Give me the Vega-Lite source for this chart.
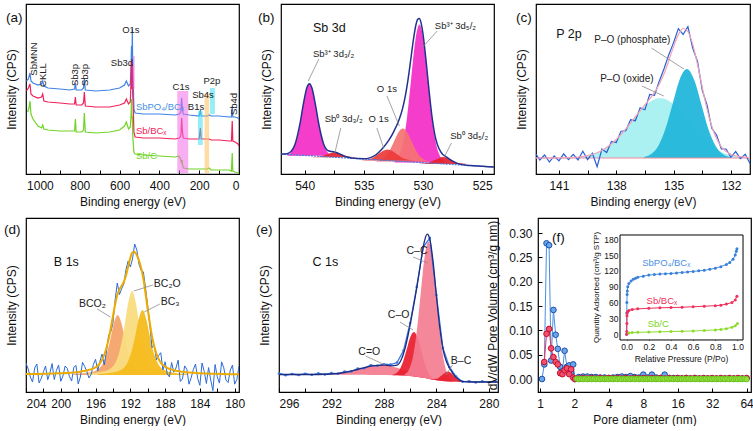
{
"$schema": "https://vega.github.io/schema/vega-lite/v6.json",
"padding": {"left": 3, "top": 3, "right": 0, "bottom": 0},
"background": "white",
"config": {
  "font": "Liberation Sans",
  "view": {"stroke": "#000", "strokeWidth": 1.2},
  "axis": {"grid": false, "domain": false, "labelFont": "Liberation Sans", "titleFont": "Liberation Sans", "labelFontSize": 12, "titleFontSize": 12, "titleFontWeight": "normal", "labelColor": "#111", "titleColor": "#111", "tickColor": "#000", "tickSize": -4, "labelPadding": 10, "titlePadding": 5},
  "text": {"font": "Liberation Sans", "color": "#222"}
},
"datasets": {
  "a_lines": [
    {"s":"B","x":1068,"y":93},{"s":"B","x":1058,"y":95},{"s":"B","x":1050,"y":101},{"s":"B","x":1045,"y":93},{"s":"B","x":1035,"y":91},{"s":"B","x":1010,"y":89},{"s":"B","x":992,"y":90},{"s":"B","x":986,"y":93},{"s":"B","x":980,"y":88},{"s":"B","x":960,"y":86},{"s":"B","x":900,"y":85},{"s":"B","x":850,"y":84},{"s":"B","x":826,"y":85},{"s":"B","x":822,"y":91},{"s":"B","x":818,"y":84},{"s":"B","x":790,"y":84},{"s":"B","x":781,"y":86},{"s":"B","x":777,"y":95},{"s":"B","x":772,"y":84},{"s":"B","x":720,"y":83},{"s":"B","x":650,"y":84},{"s":"B","x":600,"y":86},{"s":"B","x":575,"y":89},{"s":"B","x":566,"y":93},{"s":"B","x":555,"y":88},{"s":"B","x":546,"y":90},{"s":"B","x":542,"y":110},{"s":"B","x":540,"y":128},{"s":"B","x":538,"y":100},{"s":"B","x":536,"y":145},{"s":"B","x":534,"y":110},{"s":"B","x":531,"y":90},{"s":"B","x":528,"y":65},{"s":"B","x":522,"y":61},{"s":"B","x":480,"y":60},{"s":"B","x":400,"y":60},{"s":"B","x":320,"y":59},{"s":"B","x":300,"y":60},{"s":"B","x":292,"y":62},{"s":"B","x":288,"y":76},{"s":"B","x":285,"y":66},{"s":"B","x":280,"y":60},{"s":"B","x":250,"y":59},{"s":"B","x":200,"y":58},{"s":"B","x":194,"y":64},{"s":"B","x":190,"y":58},{"s":"B","x":160,"y":58},{"s":"B","x":150,"y":59},{"s":"B","x":140,"y":58},{"s":"B","x":100,"y":58},{"s":"B","x":50,"y":57},{"s":"B","x":38,"y":57},{"s":"B","x":34,"y":68},{"s":"B","x":31,"y":57},{"s":"B","x":20,"y":57},{"s":"B","x":5,"y":56},{"s":"B","x":0,"y":55},
    {"s":"R","x":1068,"y":83},{"s":"R","x":1058,"y":86},{"s":"R","x":1050,"y":90},{"s":"R","x":1045,"y":80},{"s":"R","x":1035,"y":78},{"s":"R","x":1010,"y":76},{"s":"R","x":992,"y":77},{"s":"R","x":986,"y":80},{"s":"R","x":980,"y":73},{"s":"R","x":960,"y":72},{"s":"R","x":900,"y":71},{"s":"R","x":850,"y":70},{"s":"R","x":826,"y":70},{"s":"R","x":822,"y":77},{"s":"R","x":818,"y":69},{"s":"R","x":790,"y":69},{"s":"R","x":781,"y":71},{"s":"R","x":777,"y":82},{"s":"R","x":772,"y":68},{"s":"R","x":720,"y":67},{"s":"R","x":650,"y":67},{"s":"R","x":600,"y":69},{"s":"R","x":575,"y":71},{"s":"R","x":566,"y":75},{"s":"R","x":555,"y":70},{"s":"R","x":546,"y":72},{"s":"R","x":542,"y":95},{"s":"R","x":540,"y":113},{"s":"R","x":538,"y":85},{"s":"R","x":536,"y":110},{"s":"R","x":534,"y":80},{"s":"R","x":531,"y":65},{"s":"R","x":528,"y":42},{"s":"R","x":522,"y":37},{"s":"R","x":480,"y":36},{"s":"R","x":400,"y":36},{"s":"R","x":320,"y":35},{"s":"R","x":300,"y":36},{"s":"R","x":292,"y":38},{"s":"R","x":288,"y":56},{"s":"R","x":285,"y":44},{"s":"R","x":280,"y":36},{"s":"R","x":250,"y":35},{"s":"R","x":200,"y":35},{"s":"R","x":194,"y":46},{"s":"R","x":190,"y":35},{"s":"R","x":160,"y":35},{"s":"R","x":150,"y":35},{"s":"R","x":140,"y":34},{"s":"R","x":100,"y":34},{"s":"R","x":50,"y":33},{"s":"R","x":38,"y":33},{"s":"R","x":34,"y":53},{"s":"R","x":31,"y":33},{"s":"R","x":20,"y":32},{"s":"R","x":5,"y":30},{"s":"R","x":0,"y":28},
    {"s":"G","x":1062,"y":62},{"s":"G","x":1055,"y":66},{"s":"G","x":1050,"y":73},{"s":"G","x":1045,"y":60},{"s":"G","x":1035,"y":55},{"s":"G","x":1010,"y":48},{"s":"G","x":992,"y":46},{"s":"G","x":986,"y":49},{"s":"G","x":980,"y":45},{"s":"G","x":960,"y":44},{"s":"G","x":900,"y":43},{"s":"G","x":850,"y":43},{"s":"G","x":826,"y":43},{"s":"G","x":822,"y":55},{"s":"G","x":818,"y":42},{"s":"G","x":790,"y":42},{"s":"G","x":781,"y":44},{"s":"G","x":777,"y":61},{"s":"G","x":772,"y":42},{"s":"G","x":720,"y":41},{"s":"G","x":650,"y":42},{"s":"G","x":600,"y":44},{"s":"G","x":575,"y":48},{"s":"G","x":566,"y":52},{"s":"G","x":555,"y":45},{"s":"G","x":546,"y":47},{"s":"G","x":542,"y":60},{"s":"G","x":540,"y":75},{"s":"G","x":538,"y":55},{"s":"G","x":536,"y":58},{"s":"G","x":534,"y":40},{"s":"G","x":531,"y":30},{"s":"G","x":528,"y":22},{"s":"G","x":522,"y":20},{"s":"G","x":480,"y":19},{"s":"G","x":400,"y":18},{"s":"G","x":320,"y":17},{"s":"G","x":305,"y":18},{"s":"G","x":295,"y":16},{"s":"G","x":290,"y":12},{"s":"G","x":286,"y":14},{"s":"G","x":283,"y":8},{"s":"G","x":278,"y":6},{"s":"G","x":250,"y":5},{"s":"G","x":200,"y":5},{"s":"G","x":160,"y":5},{"s":"G","x":150,"y":6},{"s":"G","x":140,"y":4},{"s":"G","x":100,"y":4},{"s":"G","x":50,"y":4},{"s":"G","x":38,"y":3},{"s":"G","x":34,"y":21},{"s":"G","x":31,"y":3},{"s":"G","x":20,"y":2},{"s":"G","x":5,"y":1},{"s":"G","x":0,"y":0}
  ],
  "a_rects": [
    {"c":"P","x":255,"x2":310,"y":1,"y2":83},
    {"c":"P","x":524,"x2":534,"y":85,"y2":118},
    {"c":"C","x":182,"x2":206,"y":29,"y2":63},
    {"c":"O","x":150,"x2":173,"y":1,"y2":80},
    {"c":"C","x":121,"x2":146,"y":60,"y2":86}
  ],
  "a_vlab": [
    {"t":"SbMNN","x":1032,"y":115},{"t":"CKLL","x":986,"y":99},{"t":"Sb3p","x":824,"y":99},{"t":"Sb3p","x":774,"y":99},{"t":"Sb4d","x":24,"y":70}
  ],
  "a_hlab": [
    {"t":"O1s","x":543,"y":144},{"t":"Sb3d","x":588,"y":111},{"t":"C1s","x":291,"y":87},{"t":"Sb4s","x":181,"y":79},{"t":"B1s","x":216,"y":67},{"t":"P2p","x":136,"y":93}
  ],
  "b_comp": [
    {"c":"c1","x":528.2,"y":13.0,"y2":11.5},{"c":"c1","x":528.55,"y":17.6,"y2":11.5},{"c":"c1","x":528.9,"y":30.2,"y2":11.5},{"c":"c1","x":529.25,"y":56.3,"y2":11.5},{"c":"c1","x":529.6,"y":95.2,"y2":11.5},{"c":"c1","x":529.95,"y":133.3,"y2":11.5},{"c":"c1","x":530.3,"y":149.5,"y2":11.5},{"c":"c1","x":530.65,"y":133.3,"y2":11.5},{"c":"c1","x":531.0,"y":95.2,"y2":11.5},{"c":"c1","x":531.35,"y":56.3,"y2":11.5},{"c":"c1","x":531.7,"y":30.2,"y2":11.5},{"c":"c1","x":532.05,"y":17.6,"y2":11.5},{"c":"c1","x":532.4,"y":13.0,"y2":11.5},
    {"c":"c2","x":537.74,"y":19.0,"y2":18.2},{"c":"c2","x":538.05,"y":21.4,"y2":18.2},{"c":"c2","x":538.36,"y":27.9,"y2":18.2},{"c":"c2","x":538.67,"y":41.6,"y2":18.2},{"c":"c2","x":538.98,"y":61.9,"y2":18.2},{"c":"c2","x":539.29,"y":81.7,"y2":18.2},{"c":"c2","x":539.6,"y":90.2,"y2":18.2},{"c":"c2","x":539.91,"y":81.7,"y2":18.2},{"c":"c2","x":540.22,"y":61.9,"y2":18.2},{"c":"c2","x":540.53,"y":41.6,"y2":18.2},{"c":"c2","x":540.84,"y":27.9,"y2":18.2},{"c":"c2","x":541.15,"y":21.4,"y2":18.2},{"c":"c2","x":541.46,"y":19.0,"y2":18.2},
    {"c":"c3","x":529.45,"y":12.9,"y2":12.5},{"c":"c3","x":529.83,"y":13.9,"y2":12.5},{"c":"c3","x":530.2,"y":17.0,"y2":12.5},{"c":"c3","x":530.58,"y":23.2,"y2":12.5},{"c":"c3","x":530.95,"y":32.5,"y2":12.5},{"c":"c3","x":531.33,"y":41.6,"y2":12.5},{"c":"c3","x":531.7,"y":45.5,"y2":12.5},{"c":"c3","x":532.08,"y":41.6,"y2":12.5},{"c":"c3","x":532.45,"y":32.5,"y2":12.5},{"c":"c3","x":532.83,"y":23.2,"y2":12.5},{"c":"c3","x":533.2,"y":17.0,"y2":12.5},{"c":"c3","x":533.58,"y":13.9,"y2":12.5},{"c":"c3","x":533.95,"y":12.9,"y2":12.5},
    {"c":"c4","x":530.75,"y":13.6,"y2":13.5},{"c":"c4","x":531.125,"y":14.0,"y2":13.5},{"c":"c4","x":531.5,"y":15.0,"y2":13.5},{"c":"c4","x":531.875,"y":17.1,"y2":13.5},{"c":"c4","x":532.25,"y":20.2,"y2":13.5},{"c":"c4","x":532.625,"y":23.2,"y2":13.5},{"c":"c4","x":533.0,"y":24.5,"y2":13.5},{"c":"c4","x":533.375,"y":23.2,"y2":13.5},{"c":"c4","x":533.75,"y":20.2,"y2":13.5},{"c":"c4","x":534.125,"y":17.1,"y2":13.5},{"c":"c4","x":534.5,"y":15.0,"y2":13.5},{"c":"c4","x":534.875,"y":14.0,"y2":13.5},{"c":"c4","x":535.25,"y":13.6,"y2":13.5},
    {"c":"c5","x":535.7,"y":16.9,"y2":16.8},{"c":"c5","x":536.3,"y":17.5,"y2":16.8},{"c":"c5","x":536.9,"y":19.8,"y2":16.8},{"c":"c5","x":537.5,"y":21.8,"y2":16.8},{"c":"c5","x":538.1,"y":19.8,"y2":16.8},{"c":"c5","x":538.7,"y":17.5,"y2":16.8},{"c":"c5","x":539.3,"y":16.9,"y2":16.8},
    {"c":"c6","x":526.35,"y":10.2,"y2":10.1},{"c":"c6","x":527.0,"y":11.0,"y2":10.1},{"c":"c6","x":527.65,"y":14.3,"y2":10.1},{"c":"c6","x":528.3,"y":17.1,"y2":10.1},{"c":"c6","x":528.95,"y":14.3,"y2":10.1},{"c":"c6","x":529.6,"y":11.0,"y2":10.1},{"c":"c6","x":530.25,"y":10.2,"y2":10.1}
  ],
  "b_env": [
    {"x":524,"y":7.0},{"x":525,"y":7.7},{"x":526,"y":8.4},{"x":527,"y":10.1},{"x":527.5,"y":12.9},{"x":528,"y":16.8},{"x":528.5,"y":22.1},{"x":529,"y":39.2},{"x":529.25,"y":58.2},{"x":529.5,"y":84.6},{"x":529.75,"y":114.2},{"x":530,"y":140.0},{"x":530.15,"y":150.3},{"x":530.3,"y":155.4},{"x":530.45,"y":154.7},{"x":530.6,"y":149.0},{"x":530.8,"y":135.2},{"x":531,"y":117.5},{"x":531.25,"y":95.6},{"x":531.5,"y":77.6},{"x":531.75,"y":64.4},{"x":532,"y":55.0},{"x":532.5,"y":41.7},{"x":533,"y":31.9},{"x":533.5,"y":24.6},{"x":534,"y":19.0},{"x":534.5,"y":16.1},{"x":535,"y":15.2},{"x":536,"y":15.9},{"x":536.5,"y":17.2},{"x":537,"y":19.9},{"x":537.5,"y":22.0},{"x":538,"y":23.2},{"x":538.4,"y":30.1},{"x":538.8,"y":49.5},{"x":539.1,"y":69.9},{"x":539.4,"y":86.4},{"x":539.6,"y":90.2},{"x":539.8,"y":86.7},{"x":540.1,"y":70.6},{"x":540.4,"y":50.1},{"x":540.8,"y":30.2},{"x":541.2,"y":22.0},{"x":541.6,"y":20.1},{"x":542,"y":20.0}
  ],
  "b_lead": [
    {"x":538.8,"y":115,"x2":539.7,"y2":93},{"x":536.95,"y":46,"x2":537.45,"y2":21},{"x":533.9,"y":46,"x2":533.3,"y2":25},{"x":533.05,"y":78,"x2":532.0,"y2":48},{"x":528.8,"y":143,"x2":530.1,"y2":126},{"x":527.6,"y":31,"x2":528.2,"y2":17}
  ],
  "b_lab": [
    {"t":"Sb³⁺ 3d₃/₂","x":539.3,"y":120},{"t":"Sb⁰ 3d₃/₂","x":538.3,"y":55},{"t":"O 1s","x":534.6,"y":55},{"t":"O 1s","x":533.9,"y":85},{"t":"Sb³⁺ 3d₅/₂","x":529.0,"y":148},{"t":"Sb⁰ 3d₅/₂","x":527.7,"y":38}
  ],
  "c_comp": [
    {"c":"c1","x":131.2,"y":16.7,"y2":16},{"c":"c1","x":131.95,"y":18.6,"y2":16},{"c":"c1","x":132.7,"y":24.1,"y2":16},{"c":"c1","x":133.45,"y":35.5,"y2":16},{"c":"c1","x":134.2,"y":52.4,"y2":16},{"c":"c1","x":134.95,"y":69.0,"y2":16},{"c":"c1","x":135.7,"y":76.0,"y2":16},{"c":"c1","x":136.45,"y":69.0,"y2":16},{"c":"c1","x":137.2,"y":52.4,"y2":16},{"c":"c1","x":137.95,"y":35.5,"y2":16},{"c":"c1","x":138.7,"y":24.1,"y2":16},{"c":"c1","x":139.45,"y":18.6,"y2":16},{"c":"c1","x":140.2,"y":16.7,"y2":16},
    {"c":"c2","x":132.05,"y":17.0,"y2":16},{"c":"c2","x":132.43,"y":19.9,"y2":16},{"c":"c2","x":132.8,"y":28.0,"y2":16},{"c":"c2","x":133.18,"y":44.9,"y2":16},{"c":"c2","x":133.55,"y":70.0,"y2":16},{"c":"c2","x":133.93,"y":94.5,"y2":16},{"c":"c2","x":134.3,"y":105.0,"y2":16},{"c":"c2","x":134.68,"y":94.5,"y2":16},{"c":"c2","x":135.05,"y":70.0,"y2":16},{"c":"c2","x":135.43,"y":44.9,"y2":16},{"c":"c2","x":135.8,"y":28.0,"y2":16},{"c":"c2","x":136.18,"y":19.9,"y2":16},{"c":"c2","x":136.55,"y":17.0,"y2":16}
  ],
  "c_env": [
    {"x":131,"y":16.4},{"x":131.5,"y":17.3},{"x":132,"y":19.7},{"x":132.5,"y":27.2},{"x":133,"y":47.7},{"x":133.25,"y":65.2},{"x":133.5,"y":86.9},{"x":133.75,"y":109.8},{"x":134,"y":129.8},{"x":134.25,"y":142.4},{"x":134.5,"y":145.5},{"x":134.75,"y":139.4},{"x":135,"y":127.4},{"x":135.25,"y":113.3},{"x":135.5,"y":100.2},{"x":135.75,"y":89.7},{"x":136,"y":81.6},{"x":136.5,"y":69.2},{"x":137,"y":57.3},{"x":137.5,"y":45.2},{"x":138,"y":34.5},{"x":138.5,"y":26.5},{"x":139,"y":21.3},{"x":139.5,"y":18.4},{"x":140,"y":17.0},{"x":140.5,"y":16.4},{"x":141,"y":16.1},{"x":142.2,"y":16.0}
  ],
  "c_raw": [
    {"x":131.0,"y":10.4},{"x":131.25,"y":19.8},{"x":131.5,"y":15.3},{"x":131.75,"y":22.4},{"x":132.0,"y":16.7},{"x":132.25,"y":25},{"x":132.5,"y":25.2},{"x":132.75,"y":39},{"x":133.0,"y":45.7},{"x":133.25,"y":69.2},{"x":133.5,"y":83.9},{"x":133.75,"y":112.8},{"x":134.0,"y":125.8},{"x":134.25,"y":147.4},{"x":134.5,"y":139.5},{"x":134.75,"y":145.4},{"x":135.0,"y":131.4},{"x":135.25,"y":119.3},{"x":135.5,"y":105.2},{"x":135.75,"y":92.7},{"x":136.0,"y":78.6},{"x":136.25,"y":79.5},{"x":136.5,"y":64.2},{"x":136.75,"y":66.2},{"x":137.0,"y":53.3},{"x":137.25,"y":54.2},{"x":137.5,"y":43.2},{"x":137.75,"y":42.8},{"x":138.0,"y":31.5},{"x":138.25,"y":32.5},{"x":138.5,"y":21.5},{"x":138.75,"y":24.9},{"x":139.0,"y":7.3},{"x":139.25,"y":20.8},{"x":139.5,"y":14.4},{"x":139.75,"y":22.7},{"x":140.0,"y":14.0},{"x":140.25,"y":19.7},{"x":140.5,"y":14.4},{"x":140.75,"y":20.2},{"x":141.0,"y":13.1},{"x":141.25,"y":18},{"x":141.5,"y":12},{"x":141.75,"y":19},{"x":142.0,"y":14},{"x":142.2,"y":20}
  ],
  "c_lead": [
    {"x":136.16,"y":126,"x2":134.46,"y2":105},{"x":136.66,"y":88,"x2":135.51,"y2":78}
  ],
  "c_lab": [
    {"t":"P–O (phosphate)","x":139.15,"y":134},{"t":"P–O (oxide)","x":138.84,"y":95}
  ],
  "d_comp": [
    {"c":"c1","x":188.35,"y":18.1,"y2":17},{"c":"c1","x":190.05,"y":19.4,"y2":17},{"c":"c1","x":190.9,"y":21.3,"y2":17},{"c":"c1","x":191.33,"y":23.8,"y2":17},{"c":"c1","x":191.75,"y":28.8,"y2":17},{"c":"c1","x":192.18,"y":38.2,"y2":17},{"c":"c1","x":192.6,"y":52.6,"y2":17},{"c":"c1","x":193.03,"y":68.9,"y2":17},{"c":"c1","x":193.45,"y":77.0,"y2":17},{"c":"c1","x":193.88,"y":68.9,"y2":17},{"c":"c1","x":194.3,"y":52.6,"y2":17},{"c":"c1","x":194.73,"y":38.2,"y2":17},{"c":"c1","x":195.15,"y":28.8,"y2":17},{"c":"c1","x":195.58,"y":23.8,"y2":17},{"c":"c1","x":196.0,"y":21.3,"y2":17},{"c":"c1","x":196.85,"y":19.4,"y2":17},{"c":"c1","x":198.55,"y":18.1,"y2":17},
    {"c":"c2","x":186.7,"y":18.5,"y2":17},{"c":"c2","x":188.4,"y":20.4,"y2":17},{"c":"c2","x":189.25,"y":23.0,"y2":17},{"c":"c2","x":189.68,"y":26.5,"y2":17},{"c":"c2","x":190.1,"y":33.5,"y2":17},{"c":"c2","x":190.53,"y":46.7,"y2":17},{"c":"c2","x":190.95,"y":66.9,"y2":17},{"c":"c2","x":191.38,"y":89.7,"y2":17},{"c":"c2","x":191.8,"y":101.0,"y2":17},{"c":"c2","x":192.23,"y":89.7,"y2":17},{"c":"c2","x":192.65,"y":66.9,"y2":17},{"c":"c2","x":193.08,"y":46.7,"y2":17},{"c":"c2","x":193.5,"y":33.5,"y2":17},{"c":"c2","x":193.93,"y":26.5,"y2":17},{"c":"c2","x":194.35,"y":23.0,"y2":17},{"c":"c2","x":195.2,"y":20.4,"y2":17},{"c":"c2","x":196.9,"y":18.5,"y2":17},
    {"c":"c3","x":185.5,"y":18.2,"y2":17},{"c":"c3","x":187.2,"y":19.6,"y2":17},{"c":"c3","x":188.05,"y":21.7,"y2":17},{"c":"c3","x":188.48,"y":24.3,"y2":17},{"c":"c3","x":188.9,"y":29.7,"y2":17},{"c":"c3","x":189.33,"y":39.9,"y2":17},{"c":"c3","x":189.75,"y":55.6,"y2":17},{"c":"c3","x":190.18,"y":73.2,"y2":17},{"c":"c3","x":190.6,"y":82.0,"y2":17},{"c":"c3","x":191.03,"y":73.2,"y2":17},{"c":"c3","x":191.45,"y":55.6,"y2":17},{"c":"c3","x":191.88,"y":39.9,"y2":17},{"c":"c3","x":192.3,"y":29.7,"y2":17},{"c":"c3","x":192.73,"y":24.3,"y2":17},{"c":"c3","x":193.15,"y":21.7,"y2":17},{"c":"c3","x":194.0,"y":19.6,"y2":17},{"c":"c3","x":195.7,"y":18.2,"y2":17}
  ],
  "d_env": [
    {"x":179.5,"y":17.8},{"x":180,"y":17.8},{"x":182,"y":18.2},{"x":184,"y":18.7},{"x":186,"y":20.2},{"x":187,"y":21.8},{"x":187.5,"y":23.1},{"x":188,"y":25.2},{"x":188.5,"y":29.3},{"x":189,"y":38.1},{"x":189.5,"y":55.4},{"x":190,"y":83.0},{"x":190.5,"y":113.2},{"x":191,"y":131.5},{"x":191.25,"y":136.6},{"x":191.5,"y":140.0},{"x":191.75,"y":139.7},{"x":192,"y":134.1},{"x":192.25,"y":125.5},{"x":192.5,"y":116.5},{"x":192.75,"y":110.0},{"x":193,"y":106.2},{"x":193.25,"y":102.6},{"x":193.5,"y":97.0},{"x":193.75,"y":87.5},{"x":194,"y":75.7},{"x":194.5,"y":52.6},{"x":195,"y":37.0},{"x":195.5,"y":28.6},{"x":196,"y":24.7},{"x":197,"y":21.5},{"x":198,"y":20.1},{"x":200,"y":18.7},{"x":204,"y":17.9}
  ],
  "d_raw": [
    {"x":179.5,"y":25.8},{"x":179.75,"y":12.5},{"x":180,"y":7.8},{"x":180.25,"y":27.0},{"x":180.5,"y":21.9},{"x":180.75,"y":9.5},{"x":181,"y":12},{"x":181.25,"y":24.2},{"x":181.5,"y":30.1},{"x":181.75,"y":8.9},{"x":182,"y":15.2},{"x":182.25,"y":27.5},{"x":182.5,"y":1.3},{"x":182.75,"y":12.0},{"x":183,"y":24.4},{"x":183.25,"y":8.5},{"x":183.5,"y":20.6},{"x":183.75,"y":29.0},{"x":184,"y":6.7},{"x":184.25,"y":13.4},{"x":184.5,"y":28},{"x":184.75,"y":22.5},{"x":185,"y":14.3},{"x":185.25,"y":7.8},{"x":185.5,"y":22.7},{"x":185.75,"y":26.1},{"x":186,"y":13.2},{"x":186.25,"y":10.5},{"x":186.5,"y":31.9},{"x":186.75,"y":24.0},{"x":187,"y":19.8},{"x":187.25,"y":29.5},{"x":187.5,"y":15.1},{"x":187.75,"y":18.0},{"x":188,"y":30.2},{"x":188.25,"y":22.0},{"x":188.5,"y":39.3},{"x":188.75,"y":36.5},{"x":189,"y":32.1},{"x":189.25,"y":47.0},{"x":189.5,"y":44.4},{"x":189.75,"y":66.0},{"x":190,"y":86},{"x":190.25,"y":104.0},{"x":190.5,"y":120.2},{"x":190.75,"y":121.5},{"x":191,"y":127.5},{"x":191.25,"y":142.0},{"x":191.5,"y":148},{"x":191.75,"y":133.0},{"x":192,"y":125},{"x":192.25,"y":131.0},{"x":192.5,"y":122.5},{"x":192.75,"y":108.0},{"x":193,"y":103.2},{"x":193.25,"y":97.5},{"x":193.5,"y":109},{"x":193.75,"y":92.0},{"x":194,"y":68.7},{"x":194.25,"y":60.0},{"x":194.5,"y":56.6},{"x":194.75,"y":40.0},{"x":195,"y":27},{"x":195.25,"y":38.0},{"x":195.5,"y":30.6},{"x":195.75,"y":21.0},{"x":196,"y":32.7},{"x":196.25,"y":27.5},{"x":196.5,"y":17.8},{"x":196.75,"y":14.0},{"x":197,"y":20.5},{"x":197.25,"y":25.5},{"x":197.5,"y":29.7},{"x":197.75,"y":15.0},{"x":198,"y":8.1},{"x":198.25,"y":26.5},{"x":198.5,"y":24.7},{"x":198.75,"y":11.0},{"x":199,"y":15.3},{"x":199.25,"y":23.5},{"x":199.5,"y":26},{"x":199.75,"y":16.0},{"x":200,"y":10.7},{"x":200.25,"y":27.0},{"x":200.5,"y":21.6},{"x":200.75,"y":12.5},{"x":201,"y":28.4},{"x":201.25,"y":19.0},{"x":201.5,"y":12.3},{"x":201.75,"y":26.0},{"x":202,"y":20.2},{"x":202.25,"y":13.5},{"x":202.5,"y":9.1},{"x":202.75,"y":28.0},{"x":203,"y":24},{"x":203.25,"y":10.0},{"x":203.5,"y":15},{"x":203.75,"y":23.0},{"x":204,"y":28.9}
  ],
  "d_lead": [
    {"x":189.4,"y":107,"x2":191.6,"y2":101},{"x":188.6,"y":88,"x2":190.4,"y2":80},{"x":195.8,"y":83,"x2":194.3,"y2":75}
  ],
  "d_lab": [
    {"t":"BC₂O","x":189.3,"y":108},{"t":"BC₃","x":188.5,"y":90},{"t":"BCO₂","x":197.9,"y":88}
  ],
  "e_comp": [
    {"c":"c1","x":283.4,"y":10.9,"y2":10.8},{"c":"c1","x":284.2,"y":12.7,"y2":12.3},{"c":"c1","x":285.0,"y":15.6,"y2":14.2},{"c":"c1","x":285.8,"y":18.9,"y2":15.7},{"c":"c1","x":286.6,"y":22.6,"y2":16.5},{"c":"c1","x":287.4,"y":25.6,"y2":16.8},{"c":"c1","x":288.2,"y":27.0,"y2":17.0},{"c":"c1","x":289.0,"y":25.9,"y2":17.1},{"c":"c1","x":289.8,"y":23.3,"y2":17.2},{"c":"c1","x":290.6,"y":20.5,"y2":17.3},{"c":"c1","x":291.4,"y":18.7,"y2":17.3},{"c":"c1","x":292.2,"y":17.8,"y2":17.4},{"c":"c1","x":293.0,"y":17.5,"y2":17.4},
    {"c":"c2","x":284.05,"y":12.4,"y2":11.9},{"c":"c2","x":284.33,"y":14.4,"y2":12.4},{"c":"c2","x":284.6,"y":19.2,"y2":13.2},{"c":"c2","x":284.88,"y":28.3,"y2":13.9},{"c":"c2","x":285.15,"y":41.5,"y2":14.5},{"c":"c2","x":285.43,"y":54.4,"y2":15.1},{"c":"c2","x":285.7,"y":60.0,"y2":15.5},{"c":"c2","x":285.98,"y":55.3,"y2":16.0},{"c":"c2","x":286.25,"y":43.2,"y2":16.2},{"c":"c2","x":286.53,"y":30.8,"y2":16.4},{"c":"c2","x":286.8,"y":22.6,"y2":16.6},{"c":"c2","x":287.08,"y":18.7,"y2":16.7},{"c":"c2","x":287.35,"y":17.3,"y2":16.8},
    {"c":"c3","x":282.8,"y":11.8,"y2":10.3},{"c":"c3","x":283.1,"y":16.5,"y2":10.5},{"c":"c3","x":283.4,"y":29.3,"y2":10.8},{"c":"c3","x":283.7,"y":55.7,"y2":11.2},{"c":"c3","x":284.0,"y":94.9,"y2":11.8},{"c":"c3","x":284.3,"y":133.2,"y2":12.3},{"c":"c3","x":284.6,"y":150.2,"y2":13.2},{"c":"c3","x":284.9,"y":134.8,"y2":13.9},{"c":"c3","x":285.2,"y":97.7,"y2":14.6},{"c":"c3","x":285.5,"y":59.7,"y2":15.2},{"c":"c3","x":285.8,"y":34.2,"y2":15.7},{"c":"c3","x":286.1,"y":22.1,"y2":16.1},{"c":"c3","x":286.4,"y":17.9,"y2":16.4},
    {"c":"c4","x":281.75,"y":10.2,"y2":10.1},{"c":"c4","x":282.2,"y":11.5,"y2":10.1},{"c":"c4","x":282.65,"y":16.3,"y2":10.2},{"c":"c4","x":283.1,"y":20.5,"y2":10.5},{"c":"c4","x":283.55,"y":17.1,"y2":11.0},{"c":"c4","x":284.0,"y":13.2,"y2":11.8},{"c":"c4","x":284.45,"y":13.0,"y2":12.9}
  ],
  "e_env": [
    {"x":279.3,"y":10},{"x":280,"y":10},{"x":281,"y":10},{"x":281.5,"y":10},{"x":282,"y":10.6},{"x":282.5,"y":14.6},{"x":283,"y":24.1},{"x":283.25,"y":31.0},{"x":283.5,"y":43.1},{"x":283.75,"y":65.3},{"x":284,"y":96.9},{"x":284.25,"y":130.3},{"x":284.5,"y":152.9},{"x":284.7,"y":157.9},{"x":284.9,"y":151.4},{"x":285.1,"y":137.2},{"x":285.3,"y":120.2},{"x":285.5,"y":103.8},{"x":285.7,"y":88.5},{"x":285.9,"y":74.3},{"x":286.1,"y":60.5},{"x":286.4,"y":43.0},{"x":286.7,"y":31.8},{"x":287,"y":26.9},{"x":287.5,"y":26.2},{"x":288,"y":26.9},{"x":289,"y":25.9},{"x":290,"y":22.5},{"x":291,"y":19.5},{"x":292,"y":18.0},{"x":294,"y":17.5},{"x":296,"y":17.5}
  ],
  "e_raw": [
    {"x":296,"y":18.5},{"x":295.5,"y":16.8},{"x":295,"y":18.0},{"x":294.5,"y":17.0},{"x":294,"y":18.3},{"x":293.5,"y":17.2},{"x":293,"y":18.6},{"x":292.5,"y":17.5},{"x":292,"y":18.9},{"x":291.5,"y":18.2},{"x":291,"y":20.4},{"x":290.5,"y":20.5},{"x":290,"y":23.4},{"x":289.5,"y":23.8},{"x":289,"y":26.8},{"x":288.5,"y":26.2},{"x":288,"y":27.8},{"x":287.5,"y":27.4},{"x":287,"y":29.5},{"x":286.5,"y":41.5},{"x":286,"y":69},{"x":285.5,"y":105},{"x":285,"y":145},{"x":284.5,"y":154},{"x":284,"y":97},{"x":283.5,"y":44},{"x":283,"y":24.8},{"x":282.5,"y":15.5},{"x":282,"y":10.2},{"x":281.5,"y":10.8},{"x":281,"y":9.6},{"x":280.5,"y":10.6},{"x":280,"y":9.8},{"x":279.5,"y":10.5}
  ],
  "e_lead": [
    {"x":285.78,"y":135,"x2":284.65,"y2":129},{"x":286.78,"y":70,"x2":285.78,"y2":62},{"x":289.4,"y":36,"x2":287.9,"y2":27},{"x":282.77,"y":27,"x2":283.27,"y2":17}
  ],
  "e_lab": [
    {"t":"C–C","x":286.28,"y":141},{"t":"C–O","x":287.7,"y":77},{"t":"C=O","x":289.95,"y":40},{"t":"B–C","x":282.9,"y":31}
  ],
  "f_main": [
    {"s":"B","x":1.04,"y":0},{"s":"B","x":1.09,"y":0.03},{"s":"B","x":1.14,"y":0.279},{"s":"B","x":1.2,"y":0.275},{"s":"B","x":1.25,"y":0.038},{"s":"B","x":1.31,"y":0.142},{"s":"B","x":1.37,"y":0.091},{"s":"B","x":1.43,"y":0.062},{"s":"B","x":1.5,"y":0.025},{"s":"B","x":1.57,"y":0.016},{"s":"B","x":1.64,"y":0.058},{"s":"B","x":1.72,"y":0.025},{"s":"B","x":1.8,"y":0.028},{"s":"B","x":1.87,"y":0.012},{"s":"B","x":1.95,"y":0.03},{"s":"B","x":2.02,"y":0.0},{"s":"B","x":2.18,"y":0.004},{"s":"B","x":2.38,"y":0.005},{"s":"B","x":2.59,"y":0.005},{"s":"B","x":2.83,"y":0.004},{"s":"B","x":3.08,"y":0.004},{"s":"B","x":3.36,"y":0.003},{"s":"B","x":3.67,"y":0.003},{"s":"B","x":4.0,"y":0.002},{"s":"B","x":4.36,"y":0.003},{"s":"B","x":4.76,"y":0.004},{"s":"B","x":5.19,"y":0.005},{"s":"B","x":5.66,"y":0.004},{"s":"B","x":6.17,"y":0.006},{"s":"B","x":6.73,"y":0.004},{"s":"B","x":7.34,"y":0.003},{"s":"B","x":8.0,"y":0.009},{"s":"B","x":8.72,"y":0.003},{"s":"B","x":9.51,"y":0.009},{"s":"B","x":10.4,"y":0.003},{"s":"B","x":11.3,"y":0.002},{"s":"B","x":12.3,"y":0.009},{"s":"B","x":13.5,"y":0.002},{"s":"B","x":14.7,"y":0.002},{"s":"B","x":16,"y":0.002},{"s":"B","x":17.4,"y":0.001},{"s":"B","x":19,"y":0.002},{"s":"B","x":20.7,"y":0.001},{"s":"B","x":22.6,"y":0.002},{"s":"B","x":24.7,"y":0.001},{"s":"B","x":26.9,"y":0.001},{"s":"B","x":29.3,"y":0.001},{"s":"B","x":32,"y":0.001},{"s":"B","x":34.9,"y":0.001},{"s":"B","x":38.1,"y":0.001},{"s":"B","x":41.5,"y":0.001},{"s":"B","x":45.3,"y":0.001},{"s":"B","x":49.4,"y":0.001},{"s":"B","x":53.8,"y":0.001},{"s":"B","x":58.7,"y":0.001},{"s":"B","x":64,"y":0.001},
    {"s":"R","x":1.09,"y":0.035},{"s":"R","x":1.14,"y":0.093},{"s":"R","x":1.2,"y":0.103},{"s":"R","x":1.25,"y":0.063},{"s":"R","x":1.31,"y":0.045},{"s":"R","x":1.37,"y":0.035},{"s":"R","x":1.43,"y":0.03},{"s":"R","x":1.5,"y":0.012},{"s":"R","x":1.57,"y":0.01},{"s":"R","x":1.64,"y":0.018},{"s":"R","x":1.72,"y":0.022},{"s":"R","x":1.8,"y":0.01},{"s":"R","x":1.87,"y":0.02},{"s":"R","x":1.95,"y":0.003},{"s":"R","x":2.02,"y":0.0},{"s":"R","x":2.18,"y":0.001},{"s":"R","x":2.38,"y":0.002},{"s":"R","x":2.59,"y":0.001},{"s":"R","x":2.83,"y":0.002},{"s":"R","x":3.08,"y":0.001},{"s":"R","x":3.36,"y":0.002},{"s":"R","x":3.67,"y":0.001},{"s":"R","x":4.0,"y":0.002},{"s":"R","x":4.36,"y":0.001},{"s":"R","x":4.76,"y":0.002},{"s":"R","x":5.19,"y":0.001},{"s":"R","x":5.66,"y":0.002},{"s":"R","x":6.17,"y":0.001},{"s":"R","x":6.73,"y":0.002},{"s":"R","x":7.34,"y":0.001},{"s":"R","x":8.0,"y":0.002},{"s":"R","x":8.72,"y":0.001},{"s":"R","x":9.51,"y":0.002},{"s":"R","x":10.4,"y":0.001},{"s":"R","x":11.3,"y":0.002},{"s":"R","x":12.3,"y":0.001},{"s":"R","x":13.5,"y":0.002},{"s":"R","x":14.7,"y":0.001},{"s":"R","x":16,"y":0.002},{"s":"R","x":17.4,"y":0.001},{"s":"R","x":19,"y":0.002},{"s":"R","x":20.7,"y":0.001},{"s":"R","x":22.6,"y":0.002},{"s":"R","x":24.7,"y":0.001},{"s":"R","x":26.9,"y":0.002},{"s":"R","x":29.3,"y":0.001},{"s":"R","x":32,"y":0.002},{"s":"R","x":34.9,"y":0.001},{"s":"R","x":38.1,"y":0.002},{"s":"R","x":41.5,"y":0.001},{"s":"R","x":45.3,"y":0.002},{"s":"R","x":49.4,"y":0.001},{"s":"R","x":53.8,"y":0.002},{"s":"R","x":58.7,"y":0.001},{"s":"R","x":64,"y":0.002},
    {"s":"G","x":2.1,"y":0.0005},{"s":"G","x":2.18,"y":-0.0005},{"s":"G","x":2.28,"y":0.0005},{"s":"G","x":2.38,"y":-0.0005},{"s":"G","x":2.48,"y":0.0005},{"s":"G","x":2.59,"y":-0.0005},{"s":"G","x":2.71,"y":0.0005},{"s":"G","x":2.83,"y":-0.0005},{"s":"G","x":2.95,"y":0.0005},{"s":"G","x":3.08,"y":-0.0005},{"s":"G","x":3.22,"y":0.0005},{"s":"G","x":3.36,"y":-0.0005},{"s":"G","x":3.51,"y":0.0005},{"s":"G","x":3.67,"y":-0.0005},{"s":"G","x":3.83,"y":0.0005},{"s":"G","x":4.0,"y":-0.0005},{"s":"G","x":4.18,"y":0.0005},{"s":"G","x":4.36,"y":-0.0005},{"s":"G","x":4.56,"y":0.0005},{"s":"G","x":4.76,"y":-0.0005},{"s":"G","x":4.97,"y":0.0005},{"s":"G","x":5.19,"y":-0.0005},{"s":"G","x":5.42,"y":0.0005},{"s":"G","x":5.66,"y":-0.0005},{"s":"G","x":5.91,"y":0.0005},{"s":"G","x":6.17,"y":-0.0005},{"s":"G","x":6.45,"y":0.0005},{"s":"G","x":6.73,"y":-0.0005},{"s":"G","x":7.03,"y":0.0005},{"s":"G","x":7.34,"y":-0.0005},{"s":"G","x":7.67,"y":0.0005},{"s":"G","x":8.0,"y":-0.0005},{"s":"G","x":8.36,"y":0.0005},{"s":"G","x":8.72,"y":-0.0005},{"s":"G","x":9.11,"y":0.0005},{"s":"G","x":9.51,"y":-0.0005},{"s":"G","x":9.93,"y":0.0005},{"s":"G","x":10.4,"y":-0.0005},{"s":"G","x":10.8,"y":0.0005},{"s":"G","x":11.3,"y":-0.0005},{"s":"G","x":11.8,"y":0.0005},{"s":"G","x":12.3,"y":-0.0005},{"s":"G","x":12.9,"y":0.0005},{"s":"G","x":13.5,"y":-0.0005},{"s":"G","x":14.1,"y":0.0005},{"s":"G","x":14.7,"y":-0.0005},{"s":"G","x":15.3,"y":0.0005},{"s":"G","x":16,"y":-0.0005},{"s":"G","x":16.7,"y":0.0005},{"s":"G","x":17.4,"y":-0.0005},{"s":"G","x":18.2,"y":0.0005},{"s":"G","x":19,"y":-0.0005},{"s":"G","x":19.8,"y":0.0005},{"s":"G","x":20.7,"y":-0.0005},{"s":"G","x":21.6,"y":0.0005},{"s":"G","x":22.6,"y":-0.0005},{"s":"G","x":23.6,"y":0.0005},{"s":"G","x":24.7,"y":-0.0005},{"s":"G","x":25.8,"y":0.0005},{"s":"G","x":26.9,"y":-0.0005},{"s":"G","x":28.1,"y":0.0005},{"s":"G","x":29.3,"y":-0.0005},{"s":"G","x":30.6,"y":0.0005},{"s":"G","x":32,"y":-0.0005},{"s":"G","x":33.4,"y":0.0005},{"s":"G","x":34.9,"y":-0.0005},{"s":"G","x":36.5,"y":0.0005},{"s":"G","x":38.1,"y":-0.0005},{"s":"G","x":39.8,"y":0.0005},{"s":"G","x":41.5,"y":-0.0005},{"s":"G","x":43.4,"y":0.0005},{"s":"G","x":45.3,"y":-0.0005},{"s":"G","x":47.3,"y":0.0005},{"s":"G","x":49.4,"y":-0.0005},{"s":"G","x":51.6,"y":0.0005},{"s":"G","x":53.8,"y":-0.0005},{"s":"G","x":56.2,"y":0.0005},{"s":"G","x":58.7,"y":-0.0005},{"s":"G","x":61.3,"y":0.0005},{"s":"G","x":64,"y":-0.0005}
  ],
  "f_iso": [
    {"s":"B","x":0.0,"y":0},{"s":"B","x":0.001,"y":40},{"s":"B","x":0.002,"y":60},{"s":"B","x":0.004,"y":75},{"s":"B","x":0.006,"y":82},{"s":"B","x":0.01,"y":90},{"s":"B","x":0.02,"y":96},{"s":"B","x":0.04,"y":101},{"s":"B","x":0.06,"y":104},{"s":"B","x":0.08,"y":106},{"s":"B","x":0.1,"y":108},{"s":"B","x":0.15,"y":110},{"s":"B","x":0.2,"y":112},{"s":"B","x":0.25,"y":113},{"s":"B","x":0.3,"y":114},{"s":"B","x":0.35,"y":114.5},{"s":"B","x":0.4,"y":115},{"s":"B","x":0.45,"y":116},{"s":"B","x":0.5,"y":117},{"s":"B","x":0.55,"y":118},{"s":"B","x":0.6,"y":119},{"s":"B","x":0.65,"y":120},{"s":"B","x":0.7,"y":121},{"s":"B","x":0.75,"y":123},{"s":"B","x":0.8,"y":125},{"s":"B","x":0.85,"y":128},{"s":"B","x":0.9,"y":132},{"s":"B","x":0.93,"y":136},{"s":"B","x":0.96,"y":142},{"s":"B","x":0.98,"y":150},{"s":"B","x":0.99,"y":157},{"s":"B","x":0.995,"y":162},
    {"s":"R","x":0.0,"y":0},{"s":"R","x":0.001,"y":5},{"s":"R","x":0.002,"y":20},{"s":"R","x":0.003,"y":35},{"s":"R","x":0.005,"y":40},{"s":"R","x":0.01,"y":43},{"s":"R","x":0.02,"y":45},{"s":"R","x":0.05,"y":47},{"s":"R","x":0.1,"y":48},{"s":"R","x":0.2,"y":49},{"s":"R","x":0.3,"y":50},{"s":"R","x":0.4,"y":50.5},{"s":"R","x":0.5,"y":51},{"s":"R","x":0.6,"y":52},{"s":"R","x":0.7,"y":53},{"s":"R","x":0.8,"y":54},{"s":"R","x":0.85,"y":55},{"s":"R","x":0.9,"y":57},{"s":"R","x":0.95,"y":60},{"s":"R","x":0.98,"y":65},{"s":"R","x":0.995,"y":72},
    {"s":"G","x":0.02,"y":2},{"s":"G","x":0.05,"y":3},{"s":"G","x":0.1,"y":3.5},{"s":"G","x":0.2,"y":4},{"s":"G","x":0.3,"y":4.5},{"s":"G","x":0.4,"y":5},{"s":"G","x":0.5,"y":5.5},{"s":"G","x":0.6,"y":6},{"s":"G","x":0.7,"y":7},{"s":"G","x":0.8,"y":8},{"s":"G","x":0.85,"y":9},{"s":"G","x":0.9,"y":10.5},{"s":"G","x":0.95,"y":13},{"s":"G","x":0.98,"y":16},{"s":"G","x":1.0,"y":20}
  ]
},
"spacing": 9,
"resolve": {"scale": {"fill": "independent", "stroke": "independent", "color": "independent"}},
"vconcat": [
 {"hconcat": [
  {
   "width": 213, "height": 170,
   "encoding": {
     "x": {"field": "x", "type": "quantitative", "scale": {"domain": [0, 1070], "reverse": true, "nice": false, "zero": false}, "axis": {"title": "Binding energy (eV)", "values": [0,100,200,300,400,500,600,700,800,900,1000], "format": "d", "labelExpr": "datum.value % 200 === 0 ? datum.label : ''"}},
     "y": {"field": "y", "type": "quantitative", "scale": {"domain": [0, 170], "nice": false, "zero": false}, "axis": {"title": "Intensity (CPS)", "labels": false, "ticks": false, "titlePadding": 8}}
   },
   "layer": [
     {"data": {"name": "a_lines"}, "mark": {"type": "line", "strokeWidth": 1.2, "clip": true}, "encoding": {"stroke": {"field": "s", "type": "nominal", "scale": {"domain": ["B","R","G"], "range": ["#3F82E6","#F2205A","#6FD426"]}, "legend": null}}},
     {"data": {"name": "a_rects"}, "mark": {"type": "rect", "opacity": 0.55}, "encoding": {"x2": {"field": "x2"}, "y2": {"field": "y2"}, "fill": {"field": "c", "type": "nominal", "scale": {"domain": ["P","C","O"], "range": ["#F06EE6","#3FE0F0","#FFBE5C"]}, "legend": null}}},
     {"data": {"name": "a_vlab"}, "mark": {"type": "text", "angle": 270, "fontSize": 9.5, "align": "center", "baseline": "middle"}, "encoding": {"text": {"field": "t"}}},
     {"data": {"name": "a_hlab"}, "mark": {"type": "text", "fontSize": 9.5, "align": "center", "baseline": "middle"}, "encoding": {"text": {"field": "t"}}},
     {"data": {"values": [{"t": "SbPO₄/BCₓ", "x": 518, "y": 67}]}, "mark": {"type": "text", "fontSize": 9.5, "align": "left", "baseline": "middle", "color": "#4A90E2"}, "encoding": {"text": {"field": "t"}}},
     {"data": {"values": [{"t": "Sb/BCₓ", "x": 518, "y": 43}]}, "mark": {"type": "text", "fontSize": 9.5, "align": "left", "baseline": "middle", "color": "#F2205A"}, "encoding": {"text": {"field": "t"}}},
     {"data": {"values": [{"t": "Sb/C", "x": 518, "y": 18}]}, "mark": {"type": "text", "fontSize": 9.5, "align": "left", "baseline": "middle", "color": "#6FD426"}, "encoding": {"text": {"field": "t"}}},
     {"data": {"values": [{"t": "(a)", "x": 1170, "y": 156}]}, "mark": {"type": "text", "fontSize": 13.5, "align": "left", "baseline": "middle", "color": "#111"}, "encoding": {"text": {"field": "t"}}}
   ]
  },
  {
   "width": 213, "height": 170,
   "encoding": {
     "x": {"field": "x", "type": "quantitative", "scale": {"domain": [524, 542], "reverse": true, "nice": false, "zero": false}, "axis": {"title": "Binding energy (eV)", "values": [525,527.5,530,532.5,535,537.5,540], "format": "d", "labelExpr": "datum.value % 5 === 0 ? datum.label : ''"}},
     "y": {"field": "y", "type": "quantitative", "scale": {"domain": [0, 170], "nice": false, "zero": false}, "axis": {"title": "Intensity (CPS)", "labels": false, "ticks": false, "titlePadding": 8}}
   },
   "layer": [
     {"data": {"name": "b_comp"}, "mark": {"type": "area", "interpolate": "monotone", "opacity": 0.92}, "encoding": {"y2": {"field": "y2"}, "fill": {"field": "c", "type": "nominal", "scale": {"domain": ["c1","c2","c3","c4","c5","c6"], "range": ["#F42CC8","#F42CC8","#F47272","#EC3A3A","#E5222A","#E5222A"]}, "legend": null}}},
     {"data": {"values": [{"x": 524, "y": 7}, {"x": 542, "y": 20}]}, "mark": {"type": "line", "color": "#4E7BE0", "strokeWidth": 1.2, "strokeDash": [2, 1]}, "encoding": {}},
     {"data": {"name": "b_env"}, "mark": {"type": "line", "color": "#22318F", "strokeWidth": 1.5, "interpolate": "monotone"}, "encoding": {}},
     {"data": {"name": "b_lead"}, "mark": {"type": "rule", "color": "#8C8C8C", "strokeWidth": 0.8}, "encoding": {"x2": {"field": "x2"}, "y2": {"field": "y2"}}},
     {"data": {"name": "b_lab"}, "mark": {"type": "text", "fontSize": 9.5, "align": "left", "baseline": "middle"}, "encoding": {"text": {"field": "t"}}},
     {"data": {"values": [{"t": "Sb 3d", "x": 539.3, "y": 146}]}, "mark": {"type": "text", "fontSize": 12.5, "align": "left", "baseline": "middle", "color": "#111"}, "encoding": {"text": {"field": "t"}}},
     {"data": {"values": [{"t": "(b)", "x": 543.94, "y": 156}]}, "mark": {"type": "text", "fontSize": 13.5, "align": "left", "baseline": "middle", "color": "#111"}, "encoding": {"text": {"field": "t"}}}
   ]
  },
  {
   "width": 214, "height": 170,
   "encoding": {
     "x": {"field": "x", "type": "quantitative", "scale": {"domain": [131, 142.2], "reverse": true, "nice": false, "zero": false}, "axis": {"title": "Binding energy (eV)", "values": [132,133.5,135,136.5,138,139.5,141], "format": "d", "labelExpr": "datum.value % 3 === 0 ? datum.label : ''"}},
     "y": {"field": "y", "type": "quantitative", "scale": {"domain": [0, 170], "nice": false, "zero": false}, "axis": {"title": "Intensity (CPS)", "labels": false, "ticks": false, "titlePadding": 8}}
   },
   "layer": [
     {"data": {"name": "c_comp"}, "mark": {"type": "area", "interpolate": "monotone", "opacity": 0.95}, "encoding": {"y2": {"field": "y2"}, "fill": {"field": "c", "type": "nominal", "scale": {"domain": ["c1","c2"], "range": ["#A6F0F0","#22B6DA"]}, "legend": null}}},
     {"data": {"values": [{"x": 131, "y": 16}, {"x": 142.2, "y": 16}]}, "mark": {"type": "line", "color": "#F08CA0", "strokeWidth": 1.2}, "encoding": {}},
     {"data": {"name": "c_raw"}, "mark": {"type": "line", "color": "#2A5FD6", "strokeWidth": 1.2}, "encoding": {}},
     {"data": {"name": "c_env"}, "mark": {"type": "line", "color": "#F4A3B6", "strokeWidth": 1.2, "interpolate": "monotone"}, "encoding": {}},
     {"data": {"name": "c_lead"}, "mark": {"type": "rule", "color": "#8C8C8C", "strokeWidth": 0.8}, "encoding": {"x2": {"field": "x2"}, "y2": {"field": "y2"}}},
     {"data": {"name": "c_lab"}, "mark": {"type": "text", "fontSize": 10, "align": "left", "baseline": "middle"}, "encoding": {"text": {"field": "t"}}},
     {"data": {"values": [{"t": "P 2p", "x": 141.14, "y": 140}]}, "mark": {"type": "text", "fontSize": 12.5, "align": "left", "baseline": "middle", "color": "#111"}, "encoding": {"text": {"field": "t"}}},
     {"data": {"values": [{"t": "(c)", "x": 143.25, "y": 156}]}, "mark": {"type": "text", "fontSize": 13.5, "align": "left", "baseline": "middle", "color": "#111"}, "encoding": {"text": {"field": "t"}}}
   ]
  }
 ], "spacing": 42, "bounds": "flush", "resolve": {"scale": {"fill": "independent", "stroke": "independent", "color": "independent"}}},
 {"hconcat": [
  {
   "width": 213, "height": 174,
   "encoding": {
     "x": {"field": "x", "type": "quantitative", "scale": {"domain": [179.5, 204], "reverse": true, "nice": false, "zero": false}, "axis": {"title": "Binding energy (eV)", "values": [180,182,184,186,188,190,192,194,196,198,200,202,204], "format": "d", "labelExpr": "datum.value % 4 === 0 ? datum.label : ''"}},
     "y": {"field": "y", "type": "quantitative", "scale": {"domain": [0, 174], "nice": false, "zero": false}, "axis": {"title": "Intensity (CPS)", "labels": false, "ticks": false, "titlePadding": 8}}
   },
   "layer": [
     {"data": {"name": "d_comp"}, "mark": {"type": "area", "interpolate": "monotone", "opacity": 0.95}, "encoding": {"y2": {"field": "y2"}, "fill": {"field": "c", "type": "nominal", "scale": {"domain": ["c1","c2","c3"], "range": ["#F5A36C","#F9DC80","#F5BC1E"]}, "legend": null}}},
     {"data": {"name": "d_raw"}, "mark": {"type": "line", "color": "#2C6BD6", "strokeWidth": 1, "clip": true}, "encoding": {}},
     {"data": {"name": "d_env"}, "mark": {"type": "line", "color": "#EDAA00", "strokeWidth": 2, "interpolate": "monotone"}, "encoding": {}},
     {"data": {"name": "d_lead"}, "mark": {"type": "rule", "color": "#8C8C8C", "strokeWidth": 0.8}, "encoding": {"x2": {"field": "x2"}, "y2": {"field": "y2"}}},
     {"data": {"name": "d_lab"}, "mark": {"type": "text", "fontSize": 10.5, "align": "left", "baseline": "middle"}, "encoding": {"text": {"field": "t"}}},
     {"data": {"values": [{"t": "B 1s", "x": 200.8, "y": 130}]}, "mark": {"type": "text", "fontSize": 12.5, "align": "left", "baseline": "middle", "color": "#111"}, "encoding": {"text": {"field": "t"}}},
     {"data": {"values": [{"t": "(d)", "x": 206.53, "y": 162}]}, "mark": {"type": "text", "fontSize": 13.5, "align": "left", "baseline": "middle", "color": "#111"}, "encoding": {"text": {"field": "t"}}}
   ]
  },
  {
   "width": 219, "height": 174,
   "encoding": {
     "x": {"field": "x", "type": "quantitative", "scale": {"domain": [279.3, 296], "reverse": true, "nice": false, "zero": false}, "axis": {"title": "Binding energy (eV)", "values": [280,282,284,286,288,290,292,294,296], "format": "d", "labelExpr": "datum.value % 4 === 0 ? datum.label : ''"}},
     "y": {"field": "y", "type": "quantitative", "scale": {"domain": [0, 174], "nice": false, "zero": false}, "axis": {"title": "Intensity (CPS)", "labels": false, "ticks": false, "titlePadding": 8}}
   },
   "layer": [
     {"data": {"name": "e_comp"}, "mark": {"type": "area", "interpolate": "monotone", "opacity": 0.92}, "encoding": {"y2": {"field": "y2"}, "fill": {"field": "c", "type": "nominal", "scale": {"domain": ["c1","c2","c3","c4"], "range": ["#F47A8E","#E81C2C","#F47D92","#E81C2C"]}, "legend": null}}},
     {"data": {"name": "e_raw"}, "mark": {"type": "line", "color": "#3A78E0", "strokeWidth": 1.3, "point": {"filled": true, "size": 7, "color": "#3A78E0"}}, "encoding": {}},
     {"data": {"name": "e_env"}, "mark": {"type": "line", "color": "#1F2C80", "strokeWidth": 1.3, "interpolate": "monotone"}, "encoding": {}},
     {"data": {"name": "e_lead"}, "mark": {"type": "rule", "color": "#8C8C8C", "strokeWidth": 0.8}, "encoding": {"x2": {"field": "x2"}, "y2": {"field": "y2"}}},
     {"data": {"name": "e_lab"}, "mark": {"type": "text", "fontSize": 10.5, "align": "left", "baseline": "middle"}, "encoding": {"text": {"field": "t"}}},
     {"data": {"values": [{"t": "C 1s", "x": 293.44, "y": 130}]}, "mark": {"type": "text", "fontSize": 12.5, "align": "left", "baseline": "middle", "color": "#111"}, "encoding": {"text": {"field": "t"}}},
     {"data": {"values": [{"t": "(e)", "x": 297.75, "y": 162}]}, "mark": {"type": "text", "fontSize": 13.5, "align": "left", "baseline": "middle", "color": "#111"}, "encoding": {"text": {"field": "t"}}}
   ]
  },
  {
   "width": 213, "height": 174,
   "layer": [
    {
     "encoding": {
       "x": {"field": "x", "type": "quantitative", "scale": {"type": "log", "base": 2, "domain": [0.96, 70], "nice": false}, "axis": {"title": "Pore diameter (nm)", "values": [1,2,4,8,16,32,64], "format": "d"}},
       "y": {"field": "y", "type": "quantitative", "scale": {"domain": [-0.0267, 0.331], "nice": false, "zero": false}, "axis": {"title": "dV/dW Pore Volume (cm³/g nm)", "values": [0,0.05,0.1,0.15,0.2,0.25,0.3], "format": ".2f", "labelPadding": 10, "titlePadding": 9}}
     },
     "layer": [
       {"data": {"name": "f_main"}, "transform": [{"filter": "datum.s === 'B'"}], "mark": {"type": "line", "color": "#4A8FE0", "strokeWidth": 1}, "encoding": {}},
       {"data": {"name": "f_main"}, "transform": [{"filter": "datum.s === 'R'"}], "mark": {"type": "line", "color": "#F0305A", "strokeWidth": 1}, "encoding": {}},
       {"data": {"name": "f_main"}, "transform": [{"filter": "datum.s === 'B'"}], "mark": {"type": "point", "filled": true, "size": 32, "fill": "#6AA6EA", "stroke": "#1D4FA8", "strokeWidth": 1, "opacity": 1}},
       {"data": {"name": "f_main"}, "transform": [{"filter": "datum.s === 'R'"}], "mark": {"type": "point", "filled": true, "size": 32, "fill": "#F2506E", "stroke": "#C0102E", "strokeWidth": 1, "opacity": 1}},
       {"data": {"name": "f_main"}, "transform": [{"filter": "datum.s === 'G'"}], "mark": {"type": "point", "filled": true, "size": 28, "fill": "#95E23E", "stroke": "#62BD1A", "strokeWidth": 0.8, "opacity": 1}},
       {"data": {"values": [{"t": "(f)", "x": 1.27, "y": 0.29}]}, "mark": {"type": "text", "fontSize": 13.5, "align": "left", "baseline": "middle", "color": "#111"}, "encoding": {"text": {"field": "t"}}}
     ]
    },
    {
     "encoding": {
       "x": {"field": "x", "type": "quantitative", "scale": {"domain": [-0.8, 1.122], "nice": false, "zero": false}, "axis": {"orient": "bottom", "offset": -52, "values": [0,0.2,0.4,0.6,0.8,1.0], "format": ".1f", "labelFontSize": 8.5, "titleFontSize": 8.5, "tickSize": -3, "labelPadding": 5, "title": "Relative Pressure (P/Po)", "titleX": 143, "titlePadding": 4}},
       "y": {"field": "y", "type": "quantitative", "scale": {"domain": [-109.6, 220.2], "nice": false, "zero": false}, "axis": {"orient": "left", "offset": -82, "values": [0,30,60,90,120,150,180], "labelFontSize": 8.5, "titleFontSize": 8, "tickSize": -3, "labelPadding": 5, "title": "Quantity Adsorbed (cm³/g STP)", "titleY": 69, "titlePadding": 3}}
     },
     "layer": [
       {"data": {"values": [{"x": -0.06, "x2": 1.05, "y": -11, "y2": 188}]}, "mark": {"type": "rect", "fill": "white", "stroke": "#000", "strokeWidth": 1}, "encoding": {"x2": {"field": "x2"}, "y2": {"field": "y2"}}},
       {"data": {"name": "f_iso"}, "mark": {"type": "line", "strokeWidth": 1}, "encoding": {"stroke": {"field": "s", "type": "nominal", "scale": {"domain": ["B","R","G"], "range": ["#4A8FE0","#F0305A","#8EDB2E"]}, "legend": null}}},
       {"data": {"name": "f_iso"}, "mark": {"type": "point", "filled": true, "size": 9, "opacity": 1}, "encoding": {"fill": {"field": "s", "type": "nominal", "scale": {"domain": ["B","R","G"], "range": ["#3A7FD8","#F0305A","#8EDB2E"]}, "legend": null}}},
       {"data": {"values": [{"t": "SbPO₄/BCₓ", "x": 0.14, "y": 134}]}, "mark": {"type": "text", "fontSize": 9.5, "align": "left", "baseline": "middle", "color": "#4A8FE0"}, "encoding": {"text": {"field": "t"}}},
       {"data": {"values": [{"t": "Sb/BCₓ", "x": 0.18, "y": 63}]}, "mark": {"type": "text", "fontSize": 9.5, "align": "left", "baseline": "middle", "color": "#F0305A"}, "encoding": {"text": {"field": "t"}}},
       {"data": {"values": [{"t": "Sb/C", "x": 0.19, "y": 20}]}, "mark": {"type": "text", "fontSize": 9.5, "align": "left", "baseline": "middle", "color": "#7ED321"}, "encoding": {"text": {"field": "t"}}}
     ]
    }
   ],
   "resolve": {"scale": {"x": "independent", "y": "independent"}, "axis": {"x": "independent", "y": "independent"}}
  }
 ], "spacing": 40, "bounds": "flush", "resolve": {"scale": {"fill": "independent", "stroke": "independent", "color": "independent"}}}
]
}
